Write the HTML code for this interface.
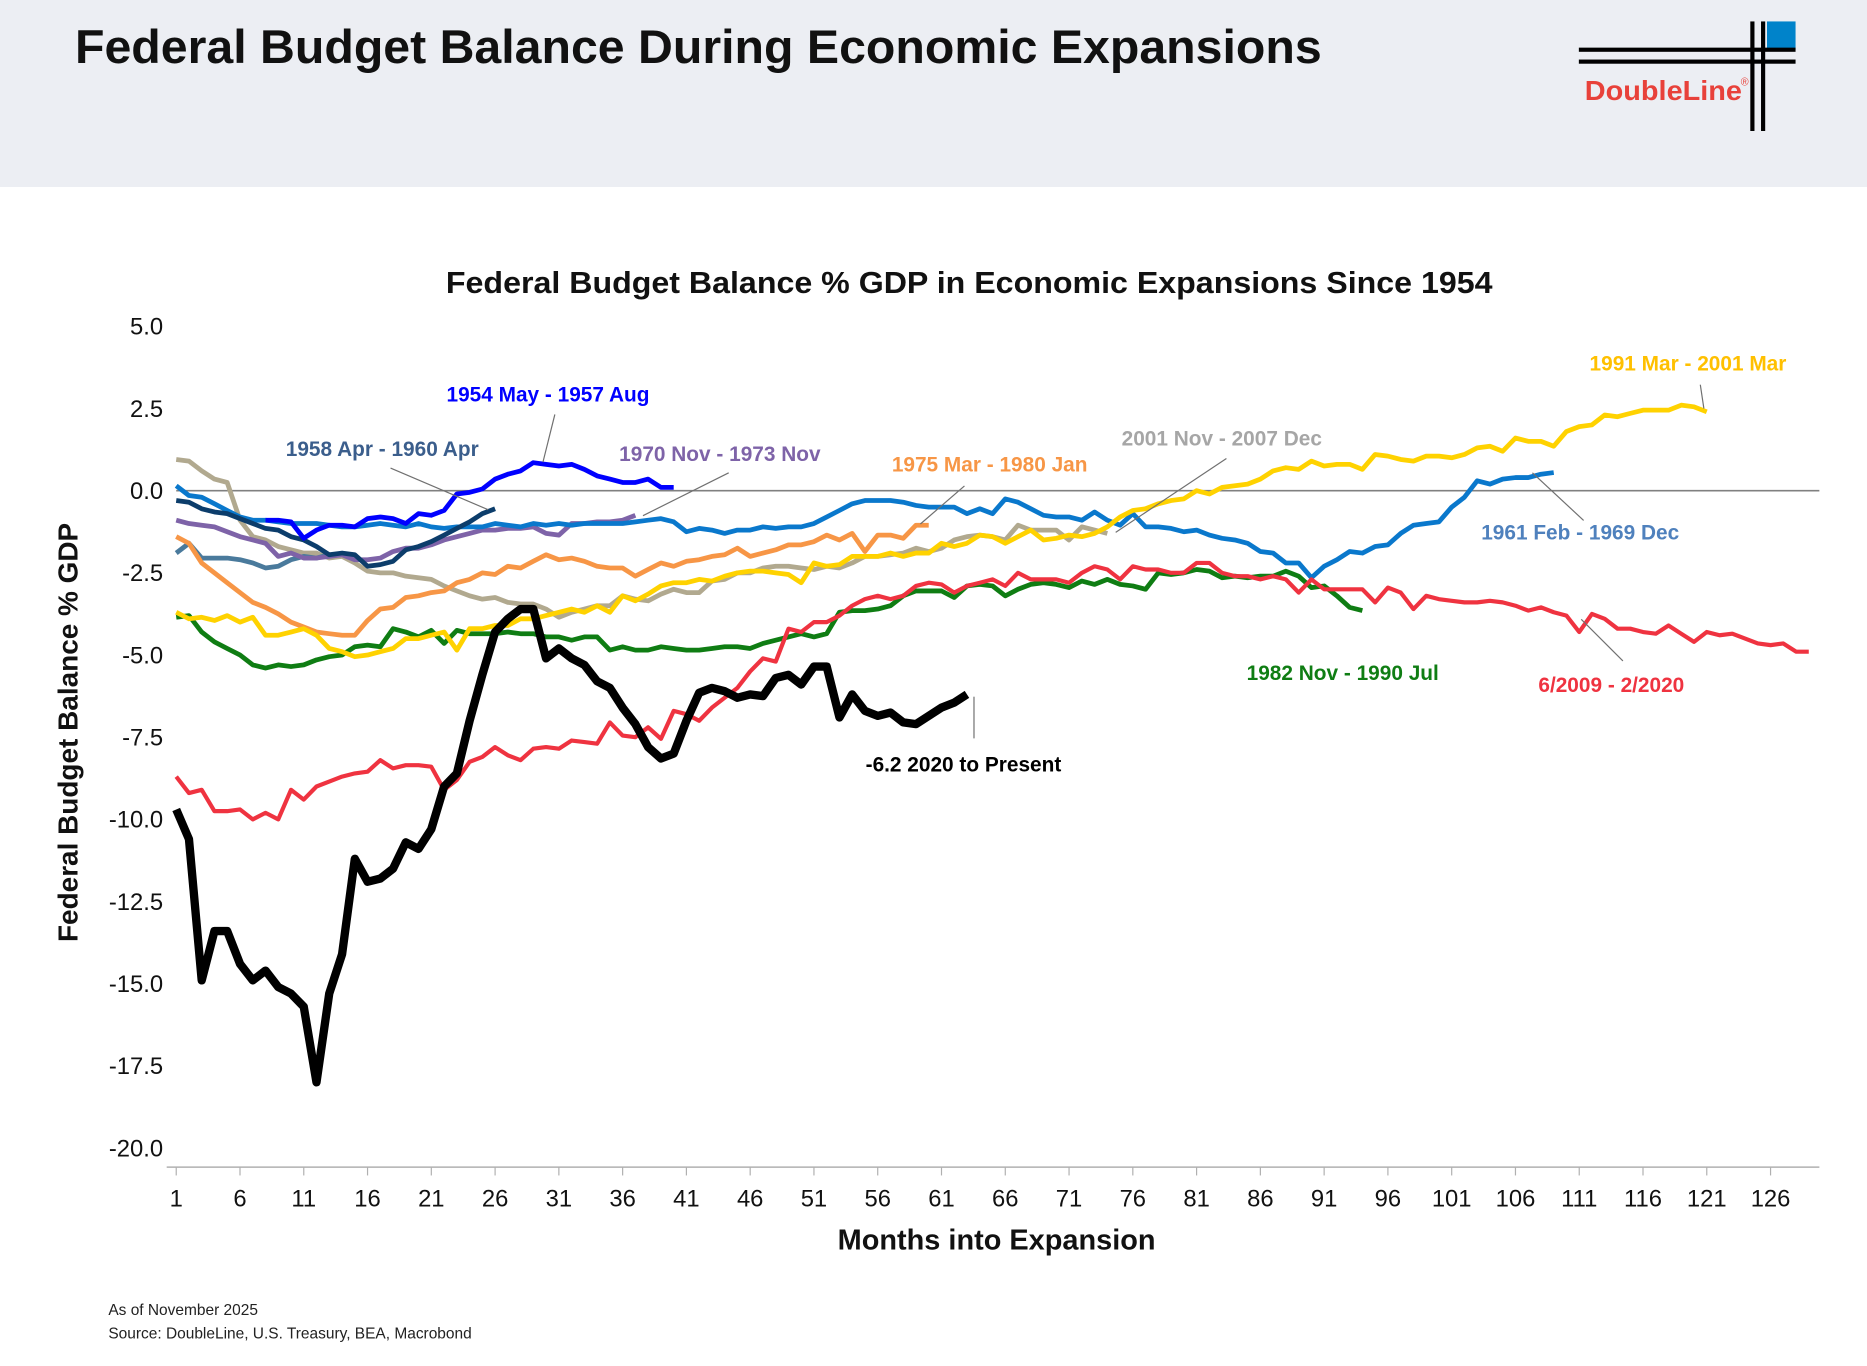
<!DOCTYPE html>
<html><head><meta charset="utf-8"><style>
html,body{margin:0;padding:0;background:#fff;}
svg{display:block;font-family:"Liberation Sans",sans-serif;}
</style></head><body>
<svg id="chart" width="1867" height="1366" viewBox="0 0 1568 1147" preserveAspectRatio="none" xmlns="http://www.w3.org/2000/svg">
<rect x="0" y="0" width="1568" height="157" fill="#eceef3"/>
<text x="63" y="53" font-size="40" font-weight="bold" fill="#111" textLength="1047" lengthAdjust="spacingAndGlyphs">Federal Budget Balance During Economic Expansions</text>
<g>
<rect x="1484" y="18" width="24" height="24" fill="#0083ca"/>
<rect x="1326" y="40" width="182" height="3.5" fill="#000"/>
<rect x="1326" y="50" width="182" height="3.5" fill="#000"/>
<rect x="1470" y="18" width="3.5" height="92" fill="#000"/>
<rect x="1479" y="18" width="3.5" height="92" fill="#000"/>
<text x="1331" y="84" font-size="23" font-weight="bold" fill="#e8413a" textLength="132" lengthAdjust="spacingAndGlyphs">DoubleLine</text>
<text x="1462" y="72" font-size="9" fill="#e8413a">®</text>
</g>
<text x="814" y="246" font-size="26" font-weight="bold" text-anchor="middle" fill="#111" textLength="879" lengthAdjust="spacingAndGlyphs">Federal Budget Balance % GDP in Economic Expansions Since 1954</text>
<text transform="translate(65,615) rotate(-90)" font-size="23" font-weight="bold" text-anchor="middle" fill="#111" textLength="352" lengthAdjust="spacingAndGlyphs">Federal Budget Balance % GDP</text>
<text x="837" y="1049" font-size="24" font-weight="bold" text-anchor="middle" fill="#111" textLength="267" lengthAdjust="spacingAndGlyphs">Months into Expansion</text>
<g id="axes"></g>
<g id="series"></g>
<g id="labels"></g>
<text x="91" y="1104" font-size="13" fill="#222">As of November 2025</text>
<text x="91" y="1124" font-size="13" fill="#222">Source: DoubleLine, U.S. Treasury, BEA, Macrobond</text>
</svg>
<script>
const yTicks=[5,2.5,0,-2.5,-5,-7.5,-10,-12.5,-15,-17.5,-20];
const xTickLabels=[1,6,11,16,21,26,31,36,41,46,51,56,61,66,71,76,81,86,91,96,101,106,111,116,121,126];
const s1954=[null,null,null,null,null,null,null,-0.9,-0.9,-0.95,-1.45,-1.2,-1.05,-1.05,-1.1,-0.85,-0.8,-0.85,-1.0,-0.7,-0.75,-0.6,-0.1,-0.05,0.05,0.35,0.5,0.6,0.85,0.8,0.75,0.8,0.65,0.45,0.35,0.25,0.25,0.35,0.1,0.1];
const s1958=[-0.3,-0.35,-0.55,-0.65,-0.7,-0.85,-1.0,-1.15,-1.2,-1.4,-1.5,-1.7,-1.95,-1.9,-1.95,-2.3,-2.25,-2.15,-1.8,-1.7,-1.55,-1.35,-1.15,-0.95,-0.7,-0.55];
const sSlate=[-1.9,-1.6,-2.05,-2.05,-2.05,-2.1,-2.2,-2.35,-2.3,-2.1,-2.0,-2.05,-1.95];
const s1961=[0.15,-0.15,-0.2,-0.4,-0.6,-0.8,-0.9,-0.9,-0.95,-1.0,-1.0,-1.0,-1.05,-1.1,-1.1,-1.05,-1.0,-1.05,-1.1,-1.0,-1.1,-1.15,-1.1,-1.1,-1.1,-1.0,-1.05,-1.1,-1.0,-1.05,-1.0,-1.05,-1.0,-1.0,-1.0,-1.0,-0.95,-0.9,-0.85,-0.95,-1.25,-1.15,-1.2,-1.3,-1.2,-1.2,-1.1,-1.15,-1.1,-1.1,-1.0,-0.8,-0.6,-0.4,-0.3,-0.3,-0.3,-0.35,-0.45,-0.5,-0.5,-0.5,-0.7,-0.55,-0.7,-0.25,-0.35,-0.55,-0.75,-0.8,-0.8,-0.9,-0.65,-0.9,-1.05,-0.7,-1.1,-1.1,-1.15,-1.25,-1.2,-1.35,-1.45,-1.5,-1.6,-1.85,-1.9,-2.2,-2.2,-2.65,-2.3,-2.1,-1.85,-1.9,-1.7,-1.65,-1.3,-1.05,-1.0,-0.95,-0.5,-0.2,0.3,0.2,0.35,0.4,0.4,0.5,0.55];
const s1970=[-0.9,-1.0,-1.05,-1.1,-1.25,-1.4,-1.5,-1.6,-2.0,-1.9,-2.05,-2.05,-2.0,-1.95,-2.1,-2.1,-2.05,-1.85,-1.75,-1.75,-1.65,-1.5,-1.4,-1.3,-1.2,-1.2,-1.15,-1.15,-1.1,-1.3,-1.35,-1.0,-1.0,-0.95,-0.95,-0.9,-0.75];
const s1975=[-1.4,-1.6,-2.2,-2.5,-2.8,-3.1,-3.4,-3.55,-3.75,-4.0,-4.15,-4.3,-4.35,-4.4,-4.4,-3.95,-3.6,-3.55,-3.25,-3.2,-3.1,-3.05,-2.8,-2.7,-2.5,-2.55,-2.3,-2.35,-2.15,-1.95,-2.1,-2.05,-2.15,-2.3,-2.35,-2.35,-2.6,-2.4,-2.2,-2.3,-2.15,-2.1,-2.0,-1.95,-1.75,-2.0,-1.9,-1.8,-1.65,-1.65,-1.55,-1.35,-1.5,-1.3,-1.85,-1.35,-1.35,-1.45,-1.05,-1.05];
const s1982=[-3.85,-3.8,-4.3,-4.6,-4.8,-5.0,-5.3,-5.4,-5.3,-5.35,-5.3,-5.15,-5.05,-5.0,-4.75,-4.7,-4.75,-4.2,-4.3,-4.45,-4.25,-4.65,-4.25,-4.35,-4.35,-4.35,-4.3,-4.35,-4.35,-4.45,-4.45,-4.55,-4.45,-4.45,-4.85,-4.75,-4.85,-4.85,-4.75,-4.8,-4.85,-4.85,-4.8,-4.75,-4.75,-4.8,-4.65,-4.55,-4.45,-4.35,-4.45,-4.35,-3.7,-3.65,-3.65,-3.6,-3.5,-3.2,-3.05,-3.05,-3.05,-3.25,-2.9,-2.85,-2.9,-3.2,-3.0,-2.85,-2.8,-2.85,-2.95,-2.75,-2.85,-2.7,-2.85,-2.9,-3.0,-2.5,-2.55,-2.5,-2.4,-2.45,-2.65,-2.6,-2.65,-2.6,-2.6,-2.45,-2.6,-2.95,-2.9,-3.2,-3.55,-3.65];
const s1991=[-3.7,-3.9,-3.85,-3.95,-3.8,-4.0,-3.85,-4.4,-4.4,-4.3,-4.2,-4.4,-4.8,-4.9,-5.05,-5.0,-4.9,-4.8,-4.5,-4.5,-4.4,-4.3,-4.85,-4.2,-4.2,-4.1,-4.1,-3.9,-3.9,-3.8,-3.7,-3.6,-3.7,-3.5,-3.7,-3.2,-3.35,-3.15,-2.9,-2.8,-2.8,-2.7,-2.75,-2.6,-2.5,-2.45,-2.45,-2.5,-2.55,-2.8,-2.2,-2.3,-2.25,-2.0,-2.0,-2.0,-1.9,-2.0,-1.9,-1.9,-1.6,-1.7,-1.6,-1.35,-1.4,-1.6,-1.4,-1.2,-1.5,-1.45,-1.35,-1.4,-1.3,-1.1,-0.8,-0.6,-0.55,-0.4,-0.3,-0.25,0.0,-0.1,0.1,0.15,0.2,0.35,0.6,0.7,0.65,0.9,0.75,0.8,0.8,0.65,1.1,1.05,0.95,0.9,1.05,1.05,1.0,1.1,1.3,1.35,1.2,1.6,1.5,1.5,1.35,1.8,1.95,2.0,2.3,2.25,2.35,2.45,2.45,2.45,2.6,2.55,2.4];
const s2001=[0.95,0.9,0.6,0.35,0.25,-0.9,-1.4,-1.5,-1.7,-1.8,-1.9,-1.9,-2.05,-2.0,-2.2,-2.45,-2.5,-2.5,-2.6,-2.65,-2.7,-2.9,-3.05,-3.2,-3.3,-3.25,-3.4,-3.45,-3.45,-3.6,-3.85,-3.7,-3.6,-3.5,-3.5,-3.2,-3.3,-3.35,-3.15,-3.0,-3.1,-3.1,-2.75,-2.7,-2.5,-2.5,-2.35,-2.3,-2.3,-2.35,-2.4,-2.3,-2.35,-2.2,-2.0,-2.0,-1.95,-1.9,-1.75,-1.85,-1.75,-1.5,-1.4,-1.35,-1.4,-1.5,-1.05,-1.2,-1.2,-1.2,-1.5,-1.1,-1.2,-1.3];
const s2009=[-8.7,-9.2,-9.1,-9.75,-9.75,-9.7,-10.0,-9.8,-10.0,-9.1,-9.4,-9.0,-8.85,-8.7,-8.6,-8.55,-8.2,-8.45,-8.35,-8.35,-8.4,-9.1,-8.8,-8.25,-8.1,-7.8,-8.05,-8.2,-7.85,-7.8,-7.85,-7.6,-7.65,-7.7,-7.05,-7.45,-7.5,-7.2,-7.55,-6.7,-6.8,-7.0,-6.6,-6.3,-6.0,-5.5,-5.1,-5.2,-4.2,-4.3,-4.0,-4.0,-3.8,-3.5,-3.3,-3.2,-3.3,-3.2,-2.9,-2.8,-2.85,-3.1,-2.9,-2.8,-2.7,-2.9,-2.5,-2.7,-2.7,-2.7,-2.8,-2.5,-2.3,-2.4,-2.7,-2.3,-2.4,-2.4,-2.5,-2.5,-2.2,-2.2,-2.5,-2.6,-2.6,-2.7,-2.6,-2.7,-3.1,-2.7,-3.0,-3.0,-3.0,-3.0,-3.4,-2.95,-3.1,-3.6,-3.2,-3.3,-3.35,-3.4,-3.4,-3.35,-3.4,-3.5,-3.65,-3.55,-3.7,-3.8,-4.3,-3.75,-3.9,-4.2,-4.2,-4.3,-4.35,-4.1,-4.35,-4.6,-4.3,-4.4,-4.35,-4.5,-4.65,-4.7,-4.65,-4.9,-4.9];
const s2020=[-9.7,-10.6,-14.9,-13.4,-13.4,-14.4,-14.9,-14.6,-15.1,-15.3,-15.7,-18.0,-15.3,-14.1,-11.2,-11.9,-11.8,-11.5,-10.7,-10.9,-10.3,-9.0,-8.6,-7.0,-5.6,-4.3,-3.9,-3.6,-3.6,-5.1,-4.8,-5.1,-5.3,-5.8,-6.0,-6.6,-7.1,-7.8,-8.15,-8.0,-7.0,-6.15,-6.0,-6.1,-6.3,-6.2,-6.25,-5.7,-5.6,-5.9,-5.35,-5.35,-6.9,-6.2,-6.7,-6.85,-6.75,-7.05,-7.1,-6.85,-6.6,-6.45,-6.2];

const NS="http://www.w3.org/2000/svg";
const X0=148,XW=10.712,Y0=412,YK=27.6;
function xs(m){return X0+(m-1)*XW;}
function ys(v){return Y0-v*YK;}
function mk(tag,attrs,parent){const e=document.createElementNS(NS,tag);for(const k in attrs)e.setAttribute(k,attrs[k]);parent.appendChild(e);return e;}
const ax=document.getElementById('axes');
yTicks.forEach(v=>{
  const t=mk('text',{x:137,y:ys(v)+7,'font-size':20,'text-anchor':'end',fill:'#111'},ax);
  t.textContent=v.toFixed(1);
  
  
});
const zl=mk('line',{x1:xs(1),x2:1528,y1:ys(0),y2:ys(0),stroke:'#808080','stroke-width':1.3},ax);


const xl=mk('line',{x1:140,x2:1528,y1:980,y2:980,stroke:'#b0b0b0','stroke-width':1.3},ax);


xTickLabels.forEach(m=>{
  const tk=mk('line',{x1:xs(m),x2:xs(m),y1:980,y2:987,stroke:'#b0b0b0','stroke-width':1},ax);
  
  
  const t=mk('text',{x:xs(m),y:1013,'font-size':20,'text-anchor':'middle',fill:'#111'},ax);
  t.textContent=m;
  
  
});
const sg=document.getElementById('series');
function draw(arr,color,w,name){
  let d='';arr.forEach((v,i)=>{if(v===null)return;d+=(d?'L':'M')+xs(i+1).toFixed(1)+','+ys(v).toFixed(1);});
  const p=mk('path',{d:d,fill:'none',stroke:color,'stroke-width':w,'stroke-linejoin':'round'},sg);
  
  
}
draw(s2001,'#b1a98f',4,'series-2001-2007');
draw(sSlate,'#4a7a9c',4,'series-slate');
draw(s1970,'#7e63a8',4,'series-1970-1973');
draw(s1975,'#f79646',4,'series-1975-1980');
draw(s1961,'#0a78cc',4,'series-1961-1969');
draw(s1958,'#0c3d6b',4,'series-1958-1960');
draw(s1954,'#0000ff',4,'series-1954-1957');
draw(s1982,'#0f7d13',4,'series-1982-1990');
draw(s1991,'#ffd200',4,'series-1991-2001');
draw(s2009,'#ef3340',3.5,'series-2009-2020');
draw(s2020,'#000000',7,'series-2020-present');
const lg=document.getElementById('labels');
function lab(txt,x,y,color,name,l){
  if(l){const ln=mk('line',{x1:l[0],y1:l[1],x2:l[2],y2:l[3],stroke:'#707070','stroke-width':1},lg);
  
  }
  const t=mk('text',{x:x,y:y,'font-size':17.5,'font-weight':'bold',fill:color},lg);
  t.textContent=txt;
  
  
}
lab('1954 May - 1957 Aug',375,337,'#0000ff','label-1954',[466,348,456,388]);
lab('1958 Apr - 1960 Apr',240,383,'#3b5e8c','label-1958',[328,393,410,428]);
lab('1970 Nov - 1973 Nov',520,387,'#7e63a8','label-1970',[612,397,540,433]);
lab('1975 Mar - 1980 Jan',749,396,'#f79646','label-1975',[810,408,773,440]);
lab('2001 Nov - 2007 Dec',942,374,'#a6a6a6','label-2001',[1030,385,937,447]);
lab('1991 Mar - 2001 Mar',1335,311,'#ffc000','label-1991',[1428,323,1431,343]);
lab('1961 Feb - 1969 Dec',1244,453,'#4f81bd','label-1961',[1330,437,1287,397]);
lab('1982 Nov - 1990 Jul',1047,571,'#0f7d13','label-1982',null);
lab('6/2009 - 2/2020',1292,581,'#ef3340','label-2009',[1363,555,1328,520]);
lab('-6.2 2020 to Present',727,648,'#000','label-2020',[818,620,818,585]);
</script>
</body></html>
